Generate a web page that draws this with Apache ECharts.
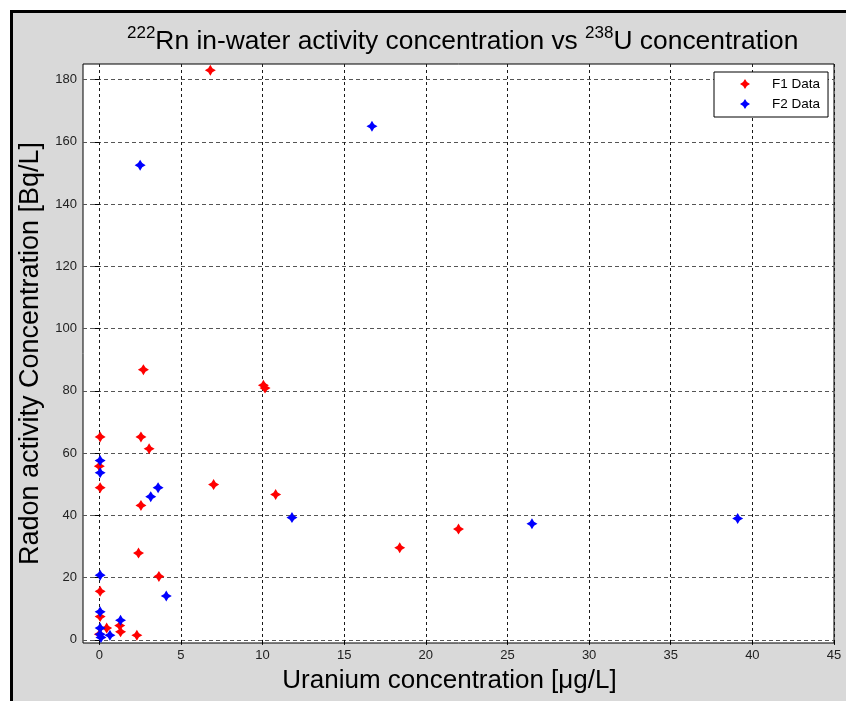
<!DOCTYPE html>
<html>
<head>
<meta charset="utf-8">
<script src="https://cdn.jsdelivr.net/npm/echarts@6/dist/echarts.min.js"></script>
<style>
  html, body { margin: 0; padding: 0; background: #fff; width: 846px; height: 701px; overflow: hidden; }
  #frame { position: absolute; left: 10px; top: 10px; width: 900px; height: 800px;
           background: #d9d9d9; border-left: 3px solid #000; border-top: 3px solid #000; }
  #chart { position: absolute; left: 0; top: 0; width: 846px; height: 701px; }
</style>
</head>
<body>
<div id="frame"></div>
<div id="chart"></div>
<script>
// F1 sampling campaign: uranium [µg/L] and radon [Bq/L]
const f1Uranium = [6.8, 2.7, 10.05, 10.15, 0.05, 2.55, 3.05, 0.0, 0.05, 7.0, 10.8, 2.55, 22.0, 18.4, 2.4, 3.65, 0.05, 0.05, 0.45, 1.25, 1.3, 2.3, 0.0];
const f1Radon    = [183, 86.8, 81.8, 80.9, 65.2, 65.2, 61.4, 55.8, 48.9, 49.9, 46.7, 43.2, 35.6, 29.6, 27.9, 20.4, 15.6, 7.5, 3.8, 4.6, 2.6, 1.5, 1.8];

// F2 sampling campaign
const f2Uranium = [16.7, 2.5, 0.05, 0.05, 3.6, 3.15, 11.8, 26.5, 39.1, 0.05, 4.1, 0.05, 1.3, 0.05, 0.05, 0.65, 0.1];
const f2Radon    = [165, 152.5, 57.6, 53.7, 48.9, 46.0, 39.3, 37.3, 39.0, 20.8, 14.1, 9.0, 6.3, 3.8, 1.8, 1.5, 0.8];

// Axis ticks
const xTicks = [0, 5, 10, 15, 20, 25, 30, 35, 40, 45];
const yTicks = [0, 20, 40, 60, 80, 100, 120, 140, 160, 180];

const FONT = 'Liberation Sans, Arial, Helvetica, sans-serif';
const STAR = 'path://M0,-5 L1.9,-1.9 L5,0 L1.9,1.9 L0,5 L-1.9,1.9 L-5,0 L-1.9,-1.9 Z';

const pairs = (xs, ys) => xs.map((x, i) => [x, ys[i]]);

const chart = echarts.init(document.getElementById('chart'), null, { renderer: 'canvas' });

chart.setOption({
  animation: false,
  title: {
    text: '{sup|222}{m|Rn in-water activity concentration vs }{sup|238}{m|U concentration}',
    left: 127,
    top: 25,
    padding: 0,
    textStyle: {
      fontFamily: FONT,
      fontWeight: 'normal',
      rich: {
        m:   { fontFamily: FONT, fontSize: 26.4, color: '#000', lineHeight: 30, verticalAlign: 'bottom' },
        sup: { fontFamily: FONT, fontSize: 17, color: '#000', lineHeight: 17, verticalAlign: 'top' }
      }
    }
  },
  legend: {
    orient: 'vertical',
    left: 714,
    top: 72,
    backgroundColor: '#fff',
    borderColor: '#000',
    borderWidth: 1,
    borderRadius: 0,
    padding: [5, 8, 6, 26],
    itemWidth: 34,
    itemHeight: 10,
    itemGap: 6,
    textStyle: { fontFamily: FONT, fontSize: 13.5, color: '#000', lineHeight: 14, padding: [0, 0, 0, 5] },
    data: ['F1 Data', 'F2 Data']
  },
  grid: {
    left: 83, top: 64, right: 12, bottom: 58,
    show: true,
    backgroundColor: '#fff',
    borderColor: '#000',
    borderWidth: 1
  },
  xAxis: {
    type: 'value',
    min: -1,
    max: 45,
    name: 'Uranium concentration [μg/L]',
    nameLocation: 'middle',
    nameGap: 25,
    nameTextStyle: { fontFamily: FONT, fontSize: 26, color: '#000', padding: [0, 18, 0, 0] },
    axisLine: { show: false },
    axisTick: { show: true, inside: false, length: 5, customValues: xTicks, lineStyle: { color: '#000' } },
    axisLabel: { customValues: xTicks, fontFamily: FONT, fontSize: 13, color: '#222', margin: 6 },
    splitLine: { show: true, lineStyle: { color: '#1a1a1a', width: 1, type: [3, 3] } }
  },
  yAxis: {
    type: 'value',
    min: -1,
    max: 185,
    name: 'Radon activity Concentration [Bq/L]',
    nameLocation: 'middle',
    nameGap: 31,
    nameTextStyle: { fontFamily: FONT, fontSize: 27, color: '#000' },
    axisLine: { show: false },
    axisTick: { show: true, inside: false, length: 5, customValues: yTicks, lineStyle: { color: '#000' } },
    axisLabel: { customValues: yTicks, fontFamily: FONT, fontSize: 13, color: '#222', margin: 6 },
    splitLine: { show: true, lineStyle: { color: '#555', width: 1, type: [4, 3] } }
  },
  series: [
    {
      name: 'F1 Data',
      type: 'scatter',
      symbol: STAR,
      symbolSize: 11,
      itemStyle: { color: '#ff0000', opacity: 1 },
      data: pairs(f1Uranium, f1Radon)
    },
    {
      name: 'F2 Data',
      type: 'scatter',
      symbol: STAR,
      symbolSize: 11,
      itemStyle: { color: '#0000ff', opacity: 1 },
      data: pairs(f2Uranium, f2Radon)
    }
  ]
});
</script>
</body>
</html>
